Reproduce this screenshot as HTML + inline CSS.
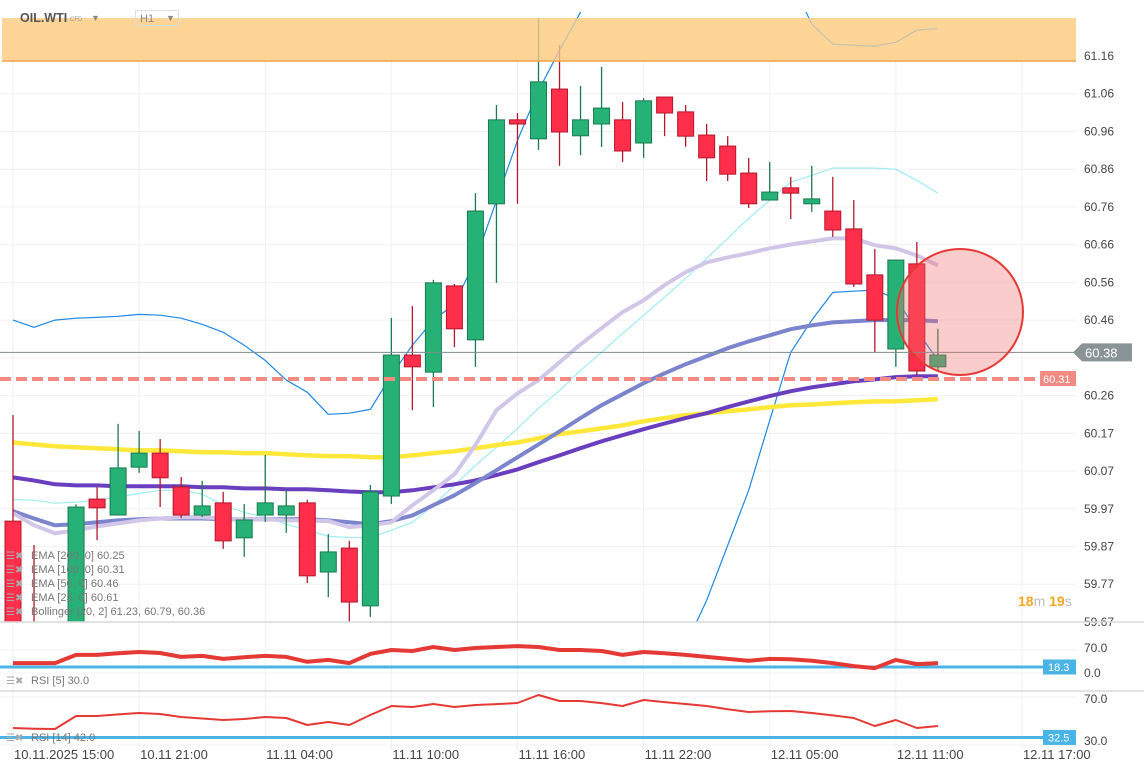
<!DOCTYPE html>
<html><head><meta charset="utf-8">
<style>
html,body{margin:0;padding:0;background:#fff;width:1144px;height:779px;overflow:hidden;font-family:"Liberation Sans",sans-serif;}
svg{display:block}
</style></head>
<body>
<svg id="chart" width="1144" height="779" viewBox="0 0 1144 779" xmlns="http://www.w3.org/2000/svg">
<defs><clipPath id="mainClip"><rect x="0" y="12" width="1076" height="610"/></clipPath></defs>
<g id="grid"></g>
<rect x="2" y="18" width="1074" height="43" fill="#fdd497"/>
<g id="main" clip-path="url(#mainClip)"></g>
<rect x="2" y="18" width="1074" height="43" fill="#fdd497" fill-opacity="0.75"/>
<line x1="2" y1="61" x2="1076" y2="61" stroke="#f2a34a" stroke-width="1.5"/>
<g id="over"></g>
<g id="axis"></g>
<g id="rsi"></g>
<g id="xaxis"></g>
<g>
<text x="20" y="22" font-size="12.5" font-weight="bold" fill="#555">OIL.WTI</text>
<text x="70" y="21" font-size="6" fill="#999">CFD</text>
<text x="91" y="21" font-size="9" fill="#888">▼</text>
<rect x="135.5" y="10.5" width="43" height="15" fill="none" stroke="#ddd"/>
<text x="140" y="22" font-size="11" fill="#888">H1</text>
<text x="166" y="21" font-size="9" fill="#888">▼</text>
</g>
<g font-size="11" fill="#777">
<text x="6" y="559" fill="#aaa" font-size="10">☰✖</text><text x="31" y="559">EMA [200, 0] 60.25</text>
<text x="6" y="573" fill="#aaa" font-size="10">☰✖</text><text x="31" y="573">EMA [100, 0] 60.31</text>
<text x="6" y="587" fill="#aaa" font-size="10">☰✖</text><text x="31" y="587">EMA [50, 0] 60.46</text>
<text x="6" y="601" fill="#aaa" font-size="10">☰✖</text><text x="31" y="601">EMA [25, 0] 60.61</text>
<text x="6" y="615" fill="#aaa" font-size="10">☰✖</text><text x="31" y="615">Bollinger [20, 2] 61.23, 60.79, 60.36</text>
<text x="6" y="684" fill="#aaa" font-size="10">☰✖</text><text x="31" y="684">RSI [5] 30.0</text>
<text x="6" y="741" fill="#aaa" font-size="10">☰✖</text><text x="31" y="741">RSI [14] 42.0</text>
</g>
<g font-size="14" font-weight="bold">
<text x="1018" y="606"><tspan fill="#f5a623">18</tspan><tspan fill="#bbb" font-weight="normal">m </tspan><tspan fill="#f5a623">19</tspan><tspan fill="#bbb" font-weight="normal">s</tspan></text>
</g>
</svg>
<script>
const opens  = [59.936,59.62,59.55,59.60,59.994,59.952,60.078,60.115,60.026,59.952,59.984,59.892,59.952,59.952,59.984,59.802,59.865,59.713,60.002,60.373,60.328,60.555,60.413,60.771,60.992,60.942,61.073,60.950,60.981,60.992,60.931,61.052,61.013,60.952,60.923,60.852,60.781,60.813,60.771,60.752,60.705,60.584,60.389,60.613,60.342];
const highs  = [60.215,59.873,59.64,59.98,60.026,60.192,60.173,60.152,60.052,60.042,60.013,59.981,60.110,60.018,59.992,59.902,59.884,60.031,60.471,60.502,60.571,60.560,60.799,61.031,61.010,61.26,61.189,61.081,61.131,61.039,61.049,61.052,61.031,60.981,60.949,60.892,60.881,60.842,60.871,60.842,60.781,60.652,60.623,60.671,60.442];
const lows   = [59.58,59.50,59.50,59.55,59.886,59.952,60.063,59.973,59.944,59.947,59.863,59.842,59.934,59.905,59.773,59.736,59.671,59.684,59.981,60.228,60.236,60.394,60.342,60.563,60.771,60.913,60.871,60.899,60.921,60.881,60.892,60.949,60.921,60.831,60.831,60.760,60.781,60.731,60.750,60.684,60.552,60.381,60.342,60.321,60.334];
const closes = [59.62,59.55,59.60,59.973,59.971,60.076,60.115,60.050,59.952,59.976,59.884,59.939,59.984,59.976,59.792,59.855,59.723,60.013,60.373,60.342,60.563,60.442,60.752,60.992,60.981,61.092,60.960,60.992,61.023,60.910,61.042,61.010,60.949,60.892,60.849,60.771,60.802,60.799,60.784,60.702,60.560,60.465,60.623,60.331,60.373];
const ema200 = [60.143,60.138,60.133,60.130,60.128,60.125,60.122,60.122,60.120,60.117,60.117,60.115,60.115,60.112,60.109,60.107,60.107,60.104,60.104,60.109,60.115,60.120,60.128,60.136,60.143,60.154,60.165,60.172,60.180,60.188,60.199,60.207,60.215,60.220,60.225,60.230,60.236,60.241,60.243,60.246,60.249,60.251,60.251,60.254,60.257];
const ema100 = [60.051,60.043,60.033,60.030,60.030,60.028,60.028,60.028,60.028,60.025,60.025,60.022,60.022,60.020,60.020,60.017,60.014,60.012,60.012,60.017,60.025,60.033,60.043,60.057,60.072,60.091,60.109,60.128,60.146,60.162,60.178,60.193,60.207,60.220,60.236,60.251,60.265,60.278,60.288,60.296,60.304,60.309,60.315,60.317,60.317];
const ema50  = [59.962,59.943,59.925,59.928,59.933,59.938,59.941,59.943,59.943,59.943,59.941,59.941,59.941,59.941,59.941,59.938,59.933,59.928,59.936,59.951,59.978,60.004,60.036,60.070,60.104,60.138,60.172,60.207,60.241,60.270,60.299,60.325,60.349,60.370,60.391,60.409,60.425,60.441,60.451,60.459,60.462,60.465,60.465,60.465,60.462];
const ema25  = [59.957,59.925,59.904,59.912,59.922,59.930,59.938,59.943,59.946,59.946,59.943,59.941,59.941,59.938,59.938,59.936,59.920,59.925,59.933,59.978,60.017,60.059,60.136,60.228,60.272,60.307,60.354,60.401,60.444,60.486,60.517,60.557,60.591,60.617,60.630,60.641,60.654,60.664,60.672,60.680,60.680,60.662,60.654,60.635,60.609];
const bbMid  = [59.993,59.991,59.983,59.986,59.991,59.999,60.009,60.017,60.017,60.007,59.978,59.959,59.946,59.928,59.912,59.896,59.893,59.893,59.912,59.933,59.978,60.030,60.083,60.130,60.180,60.233,60.280,60.333,60.380,60.430,60.478,60.525,60.575,60.628,60.680,60.733,60.780,60.828,60.846,60.865,60.865,60.865,60.862,60.833,60.799];
const bbUp   = [60.465,60.446,60.465,60.470,60.472,60.475,60.480,60.478,60.470,60.454,60.433,60.399,60.359,60.307,60.275,60.217,60.220,60.230,60.320,60.399,60.465,60.507,60.622,60.780,60.938,61.069,61.175,61.275,61.45,61.55,61.62,61.66,61.66,61.62,61.56,61.50,61.44,61.36,61.244,61.191,61.188,61.186,61.196,61.228,61.233];
const bbLow  = [null,null,null,null,null,null,null,null,null,null,null,null,null,null,null,null,null,null,null,null,null,null,null,null,null,null,null,null,null,null,null,59.491,59.609,59.728,59.872,60.017,60.201,60.380,60.465,60.538,60.541,60.544,60.522,60.438,60.359];
const rsi5   = [30,30,30,55,55,60,64,61,49,52,43,48,52,49,34,40,30,58,70,67,79,70,76,79,82,79,70,70,67,55,64,60,55,49,43,37,43,42,37,30,21,15,40,27,30];
const rsi14  = [41.7,41,40.7,53.4,53.4,55,56.3,55.4,52.4,51,49.5,50.5,52.4,51.5,44.6,47.6,44.6,54.4,63.2,62.2,65.1,62.2,64.1,65,66.1,73.9,68,68,66,63.2,69,67,65.1,63.2,60,57.3,58,58.3,56.3,54,51.5,43.7,49.5,41.7,43.7];
const priceTicks = ["61.16","61.06","60.96","60.86","60.76","60.66","60.56","60.46","60.36","60.26","60.17","60.07","59.97","59.87","59.77","59.67"];
const timeLabels = ["10.11.2025  15:00","10.11  21:00","11.11  04:00","11.11  10:00","11.11  16:00","11.11  22:00","12.11  05:00","12.11  11:00","12.11  17:00"];
const lastPrice = 60.38, ema100Level = 60.31, rsi5Level = 18.3, rsi14Level = 32.5;

const NS="http://www.w3.org/2000/svg";
function X(i){return 13+i*21.02;}
function Y(p){return 56+(61.16-p)*380;}
function R1(v){return 673-v/70*23;}
function R2(v){return 740-(v-30)/40*41;}
function mk(tag,attrs,parent){const e=document.createElementNS(NS,tag);for(const k in attrs)e.setAttribute(k,attrs[k]);parent.appendChild(e);return e;}
const grid=document.getElementById('grid'),main=document.getElementById('main'),over=document.getElementById('over'),axis=document.getElementById('axis'),rsi=document.getElementById('rsi'),xaxis=document.getElementById('xaxis');

priceTicks.forEach((t,k)=>{
  const gy=56+k*37.73;
  const g=mk('line',{x1:0,x2:1076,y1:gy,y2:gy,stroke:'#f0f0f0','stroke-width':1},grid);
  
  
  if(t==="60.36")return;
  const tx=mk('text',{x:1084,y:gy+4,'font-size':12,fill:'#444'},axis);
  tx.textContent=t;
  
  
});
timeLabels.forEach((t,k)=>{
  const gx=X(k*6);
  const g=mk('line',{x1:gx,x2:gx,y1:30,y2:750,stroke:'#f0f0f0','stroke-width':1},grid);
  
  
  const tx=mk('text',{x:gx+1,y:759,'font-size':13,fill:'#444','xml:space':'preserve'},xaxis);
  tx.textContent=t;
  
  
});

function poly(arr,yf,stroke,w,parent,name,op){
  let d='';let pen=false;
  arr.forEach((v,i)=>{if(v===null){pen=false;return;}d+=(pen?'L':'M')+X(i).toFixed(1)+' '+yf(v).toFixed(1)+' ';pen=true;});
  const p=mk('path',{d:d,fill:'none',stroke:stroke,'stroke-width':w,'stroke-linejoin':'round','stroke-opacity':op||1},parent);
  
  
  return p;
}
poly(bbUp,Y,'#1e88e5',1.2,main,'bollinger-upper');
poly(bbLow,Y,'#1e88e5',1.2,main,'bollinger-lower');
poly(bbMid,Y,'#9fecf2',1.2,main,'bollinger-middle');
poly(ema200,Y,'#ffe83a',4.5,main,'ema-200-line');
poly(ema100,Y,'#6a3fbf',4,main,'ema-100-line');
poly(ema50,Y,'#7b84cc',4,main,'ema-50-line');
poly(ema25,Y,'#d2c6e8',4,main,'ema-25-line');

opens.forEach((o,i)=>{
  const c=closes[i],up=c>=o;
  const x=X(i);
  const g=mk('g',{},main);
  
  
  const wc=up?'#1a7a4f':'#b5172b';
  mk('line',{x1:x,x2:x,y1:Y(highs[i]),y2:Y(lows[i]),stroke:wc,'stroke-width':1.3},g);
  const top=Y(Math.max(o,c)),bot=Y(Math.min(o,c));
  mk('rect',{x:x-8,y:top,width:16,height:Math.max(1.5,bot-top),fill:up?'#26b276':'#ff2e4a',stroke:wc,'stroke-width':1},g);
});

const pl=mk('line',{x1:0,x2:1076,y1:Y(lastPrice),y2:Y(lastPrice),stroke:'#7d8b8b','stroke-width':1},over);


const lv=mk('line',{x1:0,x2:1038,y1:Y(ema100Level),y2:Y(ema100Level),stroke:'#f28b82','stroke-width':4,'stroke-dasharray':'11 5'},over);


const lb=mk('rect',{x:1040,y:Y(ema100Level)-8,width:36,height:15,fill:'#f28b82'},over);


const lt=mk('text',{x:1043,y:Y(ema100Level)+4,'font-size':11,fill:'#fff'},over);
lt.textContent=ema100Level.toFixed(2);
const pb=mk('path',{d:`M1073 ${Y(lastPrice)} L1082 ${Y(lastPrice)-9} L1132 ${Y(lastPrice)-9} L1132 ${Y(lastPrice)+9} L1082 ${Y(lastPrice)+9} Z`,fill:'#8a9396'},over);


const pt=mk('text',{x:1085,y:Y(lastPrice)+5,'font-size':13,fill:'#fff'},over);
pt.textContent=lastPrice.toFixed(2);
const circ=mk('circle',{cx:960,cy:312,r:63,fill:'rgba(242,110,110,0.35)',stroke:'#e53935','stroke-width':2},over);



[[622],[691]].forEach(a=>{const s=mk('line',{x1:0,x2:1144,y1:a[0],y2:a[0],stroke:'#d8d8d8','stroke-width':1.5},rsi);});
[650,673,697,745].forEach(gy=>{
  mk('line',{x1:0,x2:1076,y1:gy,y2:gy,stroke:'#f0f0f0'},rsi);
});
[[652,'70.0'],[677,'0.0'],[703,'70.0'],[745,'30.0']].forEach(a=>{
  const t=mk('text',{x:1084,y:a[0],'font-size':12,fill:'#444'},rsi);t.textContent=a[1];
  
  
});
const b1=mk('line',{x1:0,x2:1044,y1:R1(rsi5Level),y2:R1(rsi5Level),stroke:'#4ab4e6','stroke-width':3},rsi);


poly(rsi5,R1,'#e53935',4,rsi,'rsi5-line');
const b2=mk('line',{x1:0,x2:1044,y1:R2(rsi14Level),y2:R2(rsi14Level),stroke:'#4ab4e6','stroke-width':3},rsi);


poly(rsi14,R2,'#e53935',2,rsi,'rsi14-line');
[[R1(rsi5Level),rsi5Level],[R2(rsi14Level),rsi14Level]].forEach(a=>{
  const r=mk('rect',{x:1043,y:a[0]-7.5,width:33,height:15,fill:'#4ab4e6'},rsi);
  
  
  const t=mk('text',{x:1048,y:a[0]+4,'font-size':11,fill:'#fff'},rsi);t.textContent=a[1].toFixed(1);
});
</script>
</body></html>
